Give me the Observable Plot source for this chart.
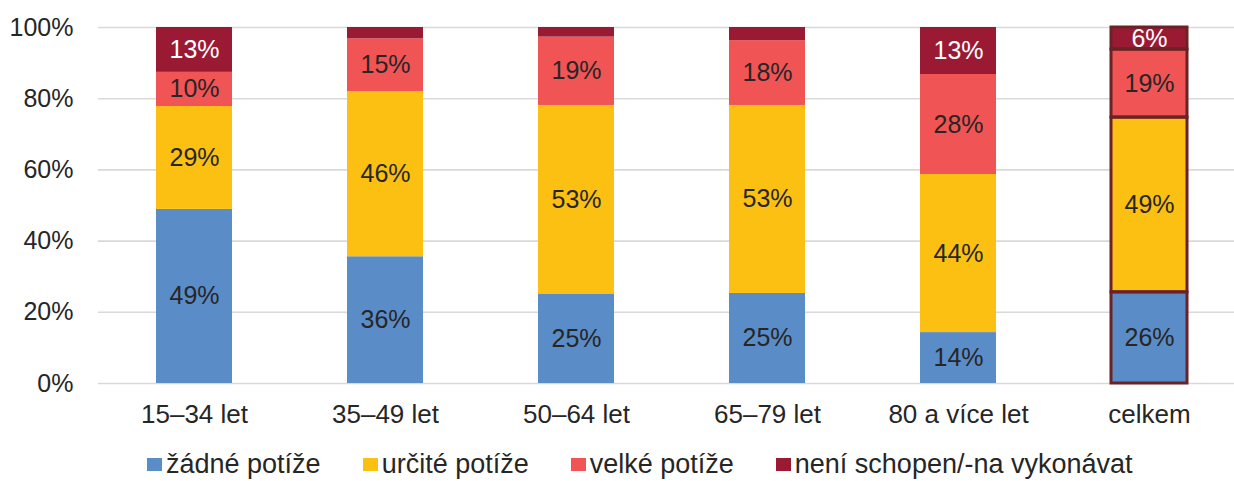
<!DOCTYPE html>
<html>
<head>
<meta charset="utf-8">
<script src="https://cdn.jsdelivr.net/npm/d3@7"></script>
<script src="https://cdn.jsdelivr.net/npm/@observablehq/plot@0.6"></script>
<style>
  html, body { margin: 0; padding: 0; background: #fff; overflow: hidden; }
  body { width: 1234px; height: 481px; font-family: "Liberation Sans", Arial, sans-serif; position: relative; }
  #legend { position: absolute; left: 0; top: 451px; display: flex; align-items: center; padding-left: 147px; font-size: 27px; line-height: 27px; color: #262626; white-space: nowrap; }
  .item { display: flex; align-items: center; margin-right: 42px; }
  .sw { width: 15px; height: 13px; margin-right: 4px; }
</style>
</head>
<body>
<div id="chart"></div>
<div id="legend"></div>
<script>
const categories = ["15–34 let", "35–49 let", "50–64 let", "65–79 let", "80 a více let", "celkem"];
const series = ["žádné potíže", "určité potíže", "velké potíže", "není schopen/-na vykonávat"];
const colors = ["#5a8cc8", "#fcc012", "#f05455", "#9a1a34"];
const labelColors = ["#262626", "#262626", "#262626", "#ffffff"];
// values per series, in category order (percent)
const zadne   = [48.9, 35.6, 25.0, 25.3, 14.3, 25.6];
const urcite  = [28.9, 46.4, 53.1, 52.8, 44.4, 49.1];
const velke   = [9.6, 14.8, 19.2, 18.2, 28.1, 19.1];
const neni    = [12.6, 3.2, 2.7, 3.7, 13.2, 6.2];
const yTicks = [0, 20, 40, 60, 80, 100];

const seriesValues = [zadne, urcite, velke, neni];
const data = [];
categories.forEach((c, i) => {
  series.forEach((s, j) => {
    data.push({cat: c, series: s, si: j, value: seriesValues[j][i]});
  });
});
const celkem = data.filter(d => d.cat === "celkem");
const labeled = data.filter(d => d.value >= 5);

const chart = Plot.plot({
  width: 1234,
  height: 440,
  marginLeft: 98,
  marginRight: 0,
  marginTop: 27,
  marginBottom: 57,
  style: {fontFamily: "Liberation Sans, Arial, sans-serif", fontSize: "25px", color: "#262626", background: "#fff"},
  x: {domain: categories, range: [98.5, 1244.5], paddingInner: 0.6, paddingOuter: 0.3, label: null, tickSize: 0, tickPadding: 21},
  y: {domain: [0, 100], ticks: yTicks, tickFormat: d => d + "%", label: null, tickSize: 0, tickPadding: 25},
  color: {domain: series, range: colors},
  marks: [
    Plot.ruleY(yTicks, {stroke: "#d9d9d9", strokeWidth: 1.6}),
    Plot.barY(data, Plot.stackY({x: "cat", y: "value", z: "series", fill: "series", order: null})),
    Plot.barY(celkem, Plot.stackY({x: "cat", y: "value", z: "series", fill: "none", stroke: "#6b2226", strokeWidth: 3, order: null})),
    Plot.text(labeled, Plot.stackY({
      x: "cat", y: "value", z: "series", order: null,
      text: d => Math.round(d.value) + "%",
      fill: d => labelColors[d.si],
      fontSize: 25
    }))
  ]
});
document.getElementById("chart").appendChild(chart);
// slightly larger x tick labels
chart.querySelectorAll('[aria-label="x-axis tick label"] text').forEach(t => t.setAttribute("font-size", "26"));

const legend = document.getElementById("legend");
series.forEach((s, j) => {
  const item = document.createElement("div");
  item.className = "item";
  const sw = document.createElement("div");
  sw.className = "sw";
  sw.style.background = colors[j];
  const t = document.createElement("span");
  t.textContent = s;
  item.appendChild(sw);
  item.appendChild(t);
  legend.appendChild(item);
});
</script>
</body>
</html>
